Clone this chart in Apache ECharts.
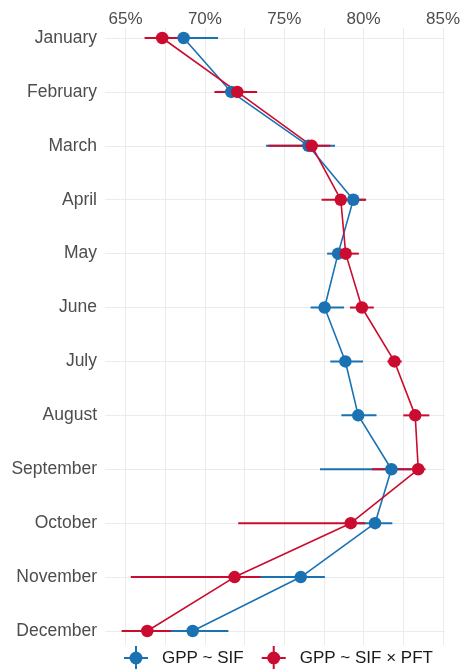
<!DOCTYPE html>
<html>
<head>
<meta charset="utf-8">
<script src="https://cdn.jsdelivr.net/npm/echarts@6/dist/echarts.min.js"></script>
<style>html,body{margin:0;padding:0;background:#fff}#c{width:463px;height:669px}</style>
</head>
<body>
<div id="c"></div>
<script>
const months = ['January','February','March','April','May','June','July','August','September','October','November','December'];

// GPP ~ SIF
const sifVal = [68.66, 71.66, 76.52, 79.35, 78.39, 77.54, 78.85, 79.66, 81.75, 80.72, 76.04, 69.23];
const sifLo  = [66.49, 70.70, 73.85, 78.60, 77.70, 76.66, 77.90, 78.60, 77.25, 79.60, 73.00, 67.50];
const sifHi  = [70.83, 72.60, 78.20, 80.10, 79.20, 78.77, 79.96, 80.81, 83.00, 81.81, 77.56, 71.48];

// GPP ~ SIF × PFT
const pftVal = [67.31, 72.04, 76.73, 78.56, 78.87, 79.89, 81.94, 83.25, 83.44, 79.19, 71.87, 66.37];
const pftLo  = [66.20, 70.60, 74.00, 77.35, 78.30, 79.14, 81.50, 82.50, 80.52, 72.10, 65.33, 64.75];
const pftHi  = [68.30, 73.29, 77.90, 80.16, 79.70, 80.64, 82.40, 84.14, 83.90, 80.10, 73.50, 67.87];

const xMinorTicks = [67.5, 72.5, 77.5, 82.5];
const seriesNames = ['GPP ~ SIF', 'GPP ~ SIF × PFT'];
const BLUE = '#1A72B3';
const RED = '#CB0B2F';
const GRID = '#EBEBEB';
const TXT = '#4D4D4D';
const FONT = 'Liberation Sans, Arial, sans-serif';

const icon = 'path://M0,11 L24,11 L24,13 L0,13 Z M11,0 L13,0 L13,24 L11,24 Z M18.5,12 A6.5,6.5 0 1,1 5.5,12 A6.5,6.5 0 1,1 18.5,12 Z';

function errSeries(name, lo, hi, color) {
  return {
    type: 'custom',
    name: name,
    z: 10,
    silent: true,
    itemStyle: { color: color },
    data: months.map((m, i) => [i, lo[i], hi[i]]),
    encode: { x: [1, 2], y: 0 },
    renderItem: function (params, api) {
      const a = api.coord([api.value(1), api.value(0)]);
      const b = api.coord([api.value(2), api.value(0)]);
      return { type: 'line', shape: { x1: a[0], y1: a[1], x2: b[0], y2: b[1] },
               style: { stroke: color, lineWidth: 2 } };
    }
  };
}
function lineSeries(name, vals, color) {
  return {
    type: 'line',
    name: name + ' points',
    z: 10,
    data: months.map((m, i) => [vals[i], i]),
    symbol: 'circle',
    symbolSize: 12.5,
    itemStyle: { color: color },
    lineStyle: { color: color, width: 1.6 },
    silent: true
  };
}

const chart = echarts.init(document.getElementById('c'));
chart.setOption({
  animation: false,
  backgroundColor: '#fff',
  grid: { left: 105, right: 15, top: 28, bottom: 24, containLabel: false },
  xAxis: {
    type: 'value', position: 'top',
    min: 63.706, max: 85.144, splitNumber: 4,
    axisLine: { show: false }, axisTick: { show: false },
    axisLabel: {
      color: TXT, fontSize: 17, fontFamily: FONT, margin: 0,
      showMinLabel: false, showMaxLabel: false,
      formatter: v => (Math.abs(v / 5 - Math.round(v / 5)) < 1e-6 ? Math.round(v) + '%' : '')
    },
    splitLine: { show: true, showMinLine: false, showMaxLine: false, lineStyle: { color: GRID, width: 1 } }
  },
  yAxis: {
    type: 'value', inverse: true,
    min: -0.1855, max: 11.26, splitNumber: 11,
    axisLine: { show: false }, axisTick: { show: false },
    axisLabel: {
      color: TXT, fontSize: 17.5, fontFamily: FONT, margin: 8,
      showMinLabel: false, showMaxLabel: false,
      formatter: v => (Math.abs(v - Math.round(v)) < 1e-6 ? (months[Math.round(v)] || '') : '')
    },
    splitLine: { show: true, showMinLine: false, showMaxLine: false, lineStyle: { color: GRID, width: 1 } }
  },
  legend: {
    top: 641, left: 119, itemWidth: 24, itemHeight: 24, itemGap: 18,
    data: [{ name: seriesNames[0], icon: icon }, { name: seriesNames[1], icon: icon }],
    textStyle: { fontSize: 17, fontFamily: FONT, color: '#1A1A1A', padding: [0, 0, 0, 9] }
  },
  series: [
    {
      type: 'line', name: 'minor grid', data: [], z: 1, silent: true,
      markLine: {
        silent: true, symbol: 'none', label: { show: false },
        lineStyle: { color: GRID, width: 1, type: 'solid' },
        data: xMinorTicks.map(v => ({ xAxis: v }))
      }
    },
    errSeries(seriesNames[0], sifLo, sifHi, BLUE),
    errSeries(seriesNames[1], pftLo, pftHi, RED),
    lineSeries(seriesNames[0], sifVal, BLUE),
    lineSeries(seriesNames[1], pftVal, RED)
  ]
});
</script>
</body>
</html>
